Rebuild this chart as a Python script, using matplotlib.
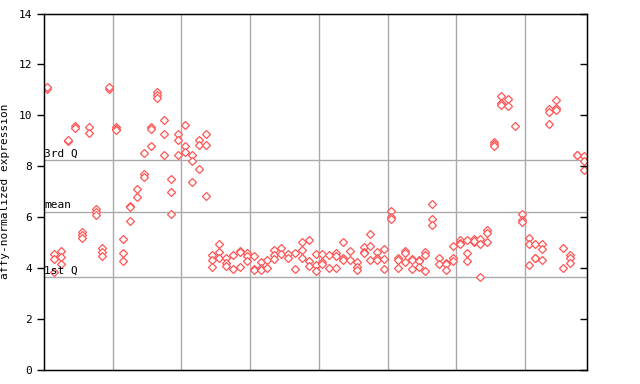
import matplotlib
matplotlib.use("Agg")
import matplotlib.pyplot as plt

# expression values per sample (79 samples, 8 groups)
expr_by_sample = [
    [11.05, 11.1], [4.53, 4.35, 3.84], [4.66, 4.42, 4.14], [9.0, 9.03],
    [9.58, 9.5], [5.4, 5.3, 5.17], [9.54, 9.32], [6.3, 6.2, 6.07],
    [4.77, 4.62, 4.48], [11.05, 11.12],
    [9.55, 9.45, 9.4], [5.15, 4.6, 4.26], [6.43, 6.4, 5.83], [7.08, 6.78],
    [8.5, 7.67, 7.58], [9.52, 9.45, 8.78], [10.93, 10.8, 10.68],
    [9.83, 9.28, 8.43], [7.51, 7.0, 6.13], [9.25, 9.02, 8.43],
    [9.6, 8.78, 8.56], [8.43, 8.2, 7.38], [9.02, 8.82, 7.9], [9.28, 8.82, 6.81],
    [4.49, 4.32, 4.03], [4.95, 4.63, 4.37], [4.4, 4.17, 4.07], [4.49, 3.97],
    [4.65, 4.62, 4.05], [4.59, 4.45, 4.27],
    [4.45, 3.94, 3.9], [4.23, 4.0, 3.9], [4.32, 4.01], [4.69, 4.52, 4.35],
    [4.76, 4.56], [4.56, 4.4], [4.6, 3.97], [5.03, 4.69, 4.4],
    [5.08, 4.27, 4.07], [4.53, 4.1, 3.88],
    [4.53, 4.22, 4.15], [4.49, 4.01], [4.59, 4.47, 4.01], [5.0, 4.39, 4.3],
    [4.65, 4.3], [4.23, 4.03, 3.93], [4.8, 4.63, 4.6], [5.31, 4.85, 4.32],
    [4.63, 4.39, 4.32], [4.72, 4.36, 3.97],
    [6.24, 6.0, 5.92], [4.4, 4.32, 4.01], [4.66, 4.59, 4.23], [4.36, 4.32, 3.97],
    [4.32, 4.28, 4.03], [4.63, 4.49, 3.87], [6.49, 5.9, 5.7], [4.4, 4.14],
    [4.2, 4.16, 3.9], [4.84, 4.4, 4.27],
    [5.11, 4.98, 4.95], [5.08, 4.6, 4.25], [5.15, 5.02, 5.05], [5.15, 4.95, 3.62],
    [5.5, 5.35, 5.03], [8.93, 8.88, 8.78], [10.75, 10.48, 10.39], [10.62, 10.35],
    [9.56], [6.1, 5.86, 5.82],
    [5.16, 4.95, 4.09], [4.93, 4.4, 4.37], [4.95, 4.72, 4.29],
    [10.26, 10.13, 9.67], [10.58, 10.3, 10.22], [4.76, 4.01],
    [4.49, 4.39, 4.17], [8.45, 8.42], [8.38, 8.19, 7.86],
]
group_sizes = [10, 10, 10, 10, 10, 10, 10, 9]
ref_lines = {"3rd Q": 8.23, "mean": 6.21, "1st Q": 3.62}
y_ticks = [0, 2, 4, 6, 8, 10, 12, 14]

MONO = "DejaVu Sans Mono"
RED = "#ff5555"
GRID = "#aaaaaa"

fig = plt.figure(figsize=(6.4, 3.84), dpi=100)
ax = fig.add_axes([44 / 640, 1 - 369.5 / 384, 543 / 640, 356 / 384])

n = len(expr_by_sample)
xs, ys = [], []
for i, vals in enumerate(expr_by_sample):
    for v in vals:
        xs.append(i)
        ys.append(v)

# group separators and reference lines
pos = -0.5
for g in group_sizes[:-1]:
    pos += g
    ax.axvline(pos, color=GRID, lw=1, zorder=1)
for name, val in ref_lines.items():
    ax.axhline(val, color=GRID, lw=1, zorder=1)
    ax.text(-0.5, val + 0.05, name, fontsize=8, family=MONO,
            ha="left", va="bottom", zorder=3)

ax.plot(xs, ys, ls="none", marker="D", ms=3.8, mfc="white", mec=RED,
        mew=0.9, zorder=2)

ax.set_xlim(-0.5, n - 0.5)
ax.set_ylim(0, 14)
ax.set_xticks([])
ax.set_yticks(y_ticks)
ax.tick_params(axis="y", direction="out", length=5, width=1, labelsize=8)
for lab in ax.get_yticklabels():
    lab.set_family(MONO)
for sp in ax.spines.values():
    sp.set_linewidth(1)
ax.set_ylabel("affy-normalized expression", fontsize=8, family=MONO,
              labelpad=6)

# inward ticks on the right spine
ax_r = ax.twinx()
ax_r.set_ylim(0, 14)
ax_r.set_yticks(y_ticks)
ax_r.tick_params(axis="y", direction="in", length=5, width=1,
                 labelright=False)

fig.savefig("out.png", dpi=100)
